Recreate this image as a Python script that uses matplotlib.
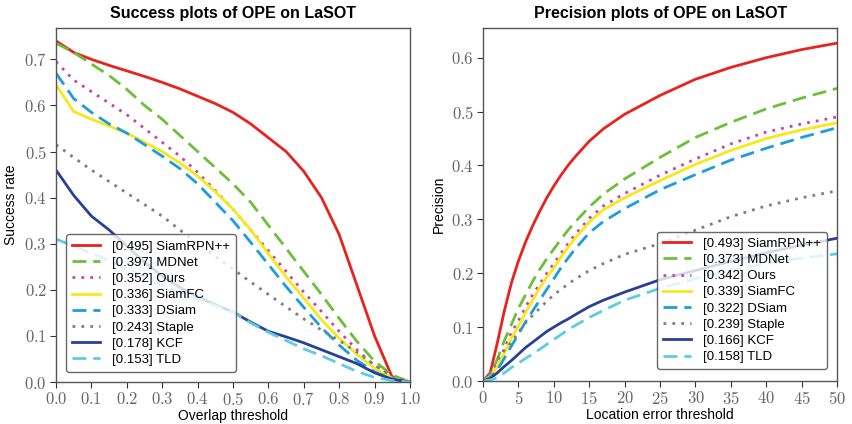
import numpy as np
import matplotlib
matplotlib.use("Agg")
import matplotlib.pyplot as plt
from matplotlib.ticker import FuncFormatter

plt.rcParams['font.family'] = ['Liberation Sans', 'DejaVu Sans']
plt.rcParams['mathtext.fontset'] = 'cm'

# success plot (overlap threshold)
thr_s = [0.0, 0.05, 0.1, 0.15, 0.2, 0.25, 0.3, 0.35, 0.4, 0.45, 0.5, 0.55, 0.6, 0.65,
         0.7, 0.75, 0.8, 0.85, 0.9, 0.95, 1.0]
succ = {
    'SiamRPN++': [0.74, 0.715, 0.70, 0.687, 0.675, 0.663, 0.65, 0.636, 0.62, 0.604, 0.585,
                  0.56, 0.53, 0.50, 0.457, 0.40, 0.32, 0.21, 0.10, 0.01, 0.0],
    'MDNet': [0.735, 0.715, 0.69, 0.665, 0.635, 0.60, 0.57, 0.535, 0.50, 0.465, 0.43,
              0.39, 0.34, 0.29, 0.24, 0.19, 0.138, 0.088, 0.045, 0.015, 0.0],
    'Ours': [0.695, 0.655, 0.63, 0.605, 0.58, 0.55, 0.52, 0.49, 0.455, 0.415, 0.375,
             0.33, 0.285, 0.24, 0.195, 0.153, 0.11, 0.07, 0.035, 0.01, 0.0],
    'SiamFC': [0.645, 0.587, 0.57, 0.555, 0.54, 0.52, 0.50, 0.475, 0.447, 0.413, 0.375,
               0.33, 0.278, 0.228, 0.182, 0.135, 0.095, 0.06, 0.03, 0.008, 0.0],
    'DSiam': [0.67, 0.615, 0.585, 0.56, 0.54, 0.515, 0.49, 0.463, 0.43, 0.39, 0.35,
              0.303, 0.255, 0.207, 0.162, 0.118, 0.08, 0.047, 0.022, 0.006, 0.0],
    'Staple': [0.515, 0.487, 0.46, 0.435, 0.41, 0.385, 0.36, 0.33, 0.30, 0.272, 0.245,
               0.217, 0.19, 0.163, 0.137, 0.113, 0.09, 0.065, 0.037, 0.012, 0.0],
    'KCF': [0.46, 0.405, 0.36, 0.33, 0.295, 0.26, 0.23, 0.205, 0.185, 0.168, 0.152,
            0.13, 0.11, 0.098, 0.085, 0.07, 0.055, 0.04, 0.02, 0.006, 0.0],
    'TLD': [0.31, 0.295, 0.28, 0.263, 0.245, 0.228, 0.21, 0.195, 0.18, 0.166, 0.152,
            0.128, 0.108, 0.09, 0.072, 0.057, 0.04, 0.023, 0.01, 0.003, 0.0],
}
auc = [0.495, 0.397, 0.352, 0.336, 0.333, 0.243, 0.178, 0.153]

# precision plot (location error threshold)
thr_p = [0, 1, 2, 3, 4, 5, 6, 7, 8, 9, 10, 11, 12, 13, 15, 17, 20, 25, 30, 35, 40, 45, 50]
prec = {
    'SiamRPN++': [0.0, 0.015, 0.07, 0.13, 0.182, 0.223, 0.258, 0.288, 0.315, 0.34, 0.362,
                  0.382, 0.4, 0.416, 0.445, 0.468, 0.495, 0.53, 0.56, 0.582, 0.60, 0.615, 0.627],
    'MDNet': [0.0, 0.01, 0.04, 0.075, 0.105, 0.135, 0.16, 0.185, 0.207, 0.227, 0.245,
              0.263, 0.28, 0.295, 0.323, 0.347, 0.375, 0.415, 0.452, 0.48, 0.505, 0.525, 0.543],
    'Ours': [0.0, 0.01, 0.03, 0.06, 0.09, 0.112, 0.137, 0.16, 0.18, 0.2, 0.218,
             0.237, 0.255, 0.272, 0.302, 0.325, 0.348, 0.382, 0.412, 0.44, 0.462, 0.477, 0.49],
    'SiamFC': [0.0, 0.008, 0.026, 0.052, 0.08, 0.102, 0.127, 0.15, 0.173, 0.193, 0.21,
               0.23, 0.248, 0.265, 0.295, 0.318, 0.34, 0.372, 0.402, 0.428, 0.45, 0.466, 0.479],
    'DSiam': [0.0, 0.006, 0.02, 0.042, 0.065, 0.087, 0.11, 0.13, 0.15, 0.17, 0.19,
              0.21, 0.228, 0.245, 0.275, 0.296, 0.32, 0.355, 0.383, 0.41, 0.432, 0.452, 0.47],
    'Staple': [0.0, 0.015, 0.04, 0.057, 0.072, 0.09, 0.108, 0.122, 0.135, 0.148, 0.16,
               0.17, 0.18, 0.189, 0.205, 0.218, 0.235, 0.255, 0.28, 0.305, 0.325, 0.34, 0.353],
    'KCF': [0.0, 0.005, 0.015, 0.027, 0.038, 0.05, 0.062, 0.072, 0.082, 0.092, 0.10,
            0.108, 0.115, 0.123, 0.138, 0.15, 0.165, 0.188, 0.205, 0.222, 0.238, 0.252, 0.265],
    'TLD': [0.0, 0.002, 0.006, 0.015, 0.025, 0.033, 0.042, 0.05, 0.059, 0.068, 0.077,
            0.086, 0.095, 0.103, 0.118, 0.131, 0.15, 0.172, 0.19, 0.205, 0.218, 0.228, 0.236],
}
prc = [0.493, 0.373, 0.342, 0.339, 0.322, 0.239, 0.166, 0.158]

styles = {
    'SiamRPN++': ('#e8231e', '-'),
    'MDNet': ('#6cbf3a', (0, (5, 2.5))),
    'Ours': ('#c046b4', (0, (1, 2.2))),
    'SiamFC': ('#f6e81a', '-'),
    'DSiam': ('#1e9ddc', (0, (5, 2.5))),
    'Staple': ('#7f7f7f', (0, (1, 2.2))),
    'KCF': ('#2a3f96', '-'),
    'TLD': ('#5ccde0', (0, (5, 2.5))),
}

fig = plt.figure(figsize=(8.52, 4.24), dpi=100)
ax1 = fig.add_axes([0.0657, 0.099, 0.4155, 0.835])
ax2 = fig.add_axes([0.567, 0.1014, 0.4155, 0.8325])


def cm_fmt(fmt):
    return FuncFormatter(lambda v, p: '$' + fmt.format(v) + '$')


def draw(ax, x, data, scores, title, xlabel, ylabel, xlim, ylim, xticks, yticks, xfmt, loc, anchor):
    for (name, ys), s in zip(data.items(), scores):
        c, ls = styles[name]
        ax.plot(x, ys, color=c, linestyle=ls, lw=2.0, label='[{:.3f}] {}'.format(s, name))
    ax.set_xlim(xlim)
    ax.set_ylim(ylim)
    ax.set_xticks(xticks)
    ax.set_yticks(yticks)
    ax.xaxis.set_major_formatter(cm_fmt(xfmt))
    ax.yaxis.set_major_formatter(cm_fmt('{:.1f}'))
    ax.tick_params(direction='out', length=4, width=0.8, labelsize=12, pad=2.5,
                   labelcolor='#666666', color='#333333', top=False, right=False)
    for sp in ax.spines.values():
        sp.set_color('#555555')
        sp.set_linewidth(1.0)
    ax.set_title(title, fontsize=11.5, fontweight='bold', pad=7)
    ax.set_xlabel(xlabel, fontsize=10, labelpad=1)
    ax.set_ylabel(ylabel, fontsize=10, labelpad=4)
    leg = ax.legend(loc=loc, bbox_to_anchor=anchor, fontsize=9.5, handlelength=2.1,
                    labelspacing=0.3, borderpad=0.45, framealpha=0.8, fancybox=True,
                    handletextpad=0.9)
    leg.get_frame().set_edgecolor('#444444')
    leg.get_frame().set_linewidth(1.0)


draw(ax1, thr_s, succ, auc, 'Success plots of OPE on LaSOT', 'Overlap threshold',
     'Success rate', (0, 1), (0, 0.768), np.arange(0, 1.01, 0.1), np.arange(0, 0.71, 0.1),
     '{:.1f}', 'lower left', (0.01, 0.01))
draw(ax2, thr_p, prec, prc, 'Precision plots of OPE on LaSOT', 'Location error threshold',
     'Precision', (0, 50), (0, 0.655), np.arange(0, 51, 5), np.arange(0, 0.61, 0.1),
     '{:.0f}', 'lower right', (0.99, 0.015))

fig.savefig('out.png', dpi=100)
